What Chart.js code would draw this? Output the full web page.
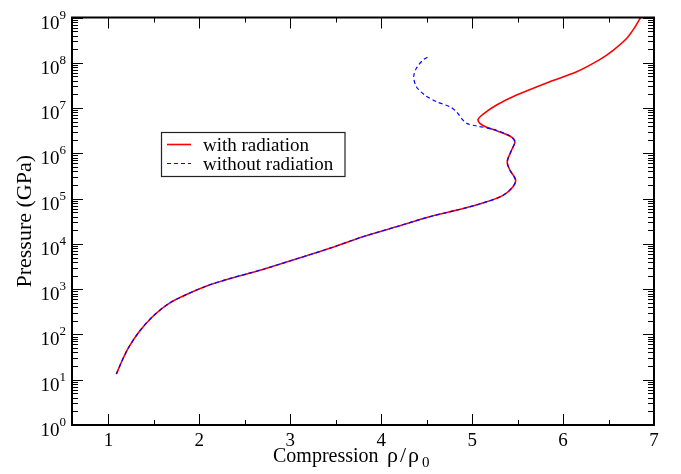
<!DOCTYPE html>
<html>
<head>
<meta charset="utf-8">
<script src="https://cdn.jsdelivr.net/npm/chart.js@4"></script>
<style>
  html, body { margin: 0; padding: 0; background: #fff; }
  canvas { display: block; }
</style>
</head>
<body>
<canvas id="chart" width="681" height="474"></canvas>
<script>
// part of the curve shared by both runs (they overlap up to ~2.4e6 GPa)
const compressionShared = [1.088, 1.154, 1.228, 1.338, 1.485, 1.668, 1.889, 2.11, 2.33, 2.532, 2.697, 3.065,
  3.434, 3.799, 4.167, 4.534, 4.901, 5.10, 5.33, 5.44, 5.478, 5.415, 5.386, 5.434, 5.47, 5.415]
const pressureShared = [13.4, 27.3, 53.6, 115, 246, 487, 811, 1236, 1706, 2200, 2723, 4636,
  7986, 14410, 23940, 39810, 60300, 78000, 115000, 174000, 257600, 428000, 653000, 1.18e6, 1.81e6, 2.41e6]

// with radiation: turns back and climbs to the right
const compressionRad = [5.269, 5.159, 5.085, 5.066, 5.121, 5.269, 5.489, 5.853, 6.15, 6.407, 6.554, 6.701, 6.793, 6.848, 6.86]
const pressureRad = [3.16e6, 3.76e6, 4.6e6, 5.64e6, 7.38e6, 1.17e7, 1.94e7, 3.82e7, 6.35e7, 1.19e8, 1.91e8, 3.47e8, 6.25e8, 9.6e8, 1.0e9]

// without radiation: keeps going left
const compressionNoRad = [5.231, 5.048, 4.938, 4.883, 4.828, 4.754, 4.608, 4.479, 4.387, 4.358, 4.387, 4.46, 4.534]
const pressureNoRad = [3.4e6, 4.02e6, 4.6e6, 5.93e6, 8.3e6, 1.07e7, 1.38e7, 1.94e7, 2.96e7, 4.92e7, 7.55e7, 1.15e8, 1.41e8]

const xTicks = [1, 2, 3, 4, 5, 6, 7]
const yDecades = [0, 1, 2, 3, 4, 5, 6, 7, 8, 9]
const seriesNames = ['with radiation', 'without radiation']

const toPoints = (xs, ys) => xs.map((x, i) => ({ x, y: ys[i] }))

const SERIF = '"Liberation Serif", "DejaVu Serif", serif'

const axesPlugin = {
  id: 'axesFrame',
  afterDraw(chart) {
    const { ctx, chartArea: a } = chart
    const x = chart.scales.x
    const y = chart.scales.y
    ctx.save()
    ctx.strokeStyle = '#000'
    ctx.fillStyle = '#000'

    // inward ticks on all four sides
    ctx.lineWidth = 1
    ctx.beginPath()
    xTicks.forEach((v, i) => {
      const px = Math.round(x.getPixelForValue(v)) + 0.5
      ctx.moveTo(px, a.bottom); ctx.lineTo(px, a.bottom - 11)
      ctx.moveTo(px, a.top); ctx.lineTo(px, a.top + 11)
      if (i < xTicks.length - 1) {
        const pm = Math.round(x.getPixelForValue(v + 0.5)) + 0.5
        ctx.moveTo(pm, a.bottom); ctx.lineTo(pm, a.bottom - 5)
        ctx.moveTo(pm, a.top); ctx.lineTo(pm, a.top + 5)
      }
    })
    yDecades.forEach((d) => {
      const py = Math.round(y.getPixelForValue(Math.pow(10, d))) + 0.5
      ctx.moveTo(a.left, py); ctx.lineTo(a.left + 11, py)
      ctx.moveTo(a.right, py); ctx.lineTo(a.right - 11, py)
      if (d < 9) {
        for (let k = 2; k <= 9; k++) {
          const pm = Math.round(y.getPixelForValue(k * Math.pow(10, d))) + 0.5
          ctx.moveTo(a.left, pm); ctx.lineTo(a.left + 6, pm)
          ctx.moveTo(a.right, pm); ctx.lineTo(a.right - 6, pm)
        }
      }
    })
    ctx.stroke()

    ctx.lineWidth = 2
    ctx.strokeRect(a.left, a.top, a.right - a.left, a.bottom - a.top)

    // x tick labels
    ctx.font = '19px ' + SERIF
    ctx.textAlign = 'center'
    ctx.textBaseline = 'alphabetic'
    xTicks.forEach((v) => {
      ctx.fillText(String(v), x.getPixelForValue(v), a.bottom + 21)
    })

    // y tick labels as 10^n
    yDecades.forEach((d) => {
      const py = y.getPixelForValue(Math.pow(10, d))
      const right = a.left - 6
      ctx.textAlign = 'right'
      ctx.font = '13px ' + SERIF
      ctx.fillText(String(d), right, py + 1)
      const ew = ctx.measureText(String(d)).width
      ctx.font = '19px ' + SERIF
      ctx.fillText('10', right - ew, py + 11)
    })

    // x title: Compression rho/rho0
    ctx.textAlign = 'left'
    const tb = a.bottom + 37
    ctx.font = '20px ' + SERIF
    ctx.fillText('Compression', 273, tb)
    ctx.font = '22px ' + SERIF
    ctx.fillText('ρ', 387, tb)
    ctx.fillText('/', 400, tb)
    ctx.fillText('ρ', 408, tb)
    ctx.font = '15px ' + SERIF
    ctx.fillText('0', 422, tb + 5)

    // y title
    ctx.save()
    ctx.translate(31, (a.top + a.bottom) / 2)
    ctx.rotate(-Math.PI / 2)
    ctx.textAlign = 'center'
    ctx.font = '22px ' + SERIF
    ctx.fillText('Pressure (GPa)', 0, 0)
    ctx.restore()

    // legend box
    const lx = 161.5, ly = 132.5, lw = 183.5, lh = 44
    ctx.fillStyle = '#fff'
    ctx.fillRect(lx, ly, lw, lh)
    ctx.lineWidth = 1.2
    ctx.strokeStyle = '#222'
    ctx.strokeRect(lx, ly, lw, lh)
    const rows = [
      { color: '#ff0000', dash: [], width: 1.6, y: 144.5 },
      { color: '#0000ff', dash: [4, 3], width: 1.2, y: 163.5 }
    ]
    rows.forEach((r, i) => {
      ctx.beginPath()
      ctx.strokeStyle = r.color
      ctx.lineWidth = r.width
      ctx.setLineDash(r.dash)
      ctx.moveTo(167, r.y); ctx.lineTo(191, r.y)
      ctx.stroke()
      ctx.setLineDash([])
      ctx.fillStyle = '#000'
      ctx.font = '19px ' + SERIF
      ctx.textAlign = 'left'
      ctx.fillText(seriesNames[i], 203, r.y + 6)
    })
    ctx.restore()
  }
}

new Chart(document.getElementById('chart'), {
  type: 'scatter',
  data: {
    datasets: [
      {
        label: seriesNames[0],
        data: toPoints(compressionShared.concat(compressionRad), pressureShared.concat(pressureRad)),
        showLine: true,
        borderColor: '#ff0000',
        borderWidth: 1.6,
        pointRadius: 0,
        tension: 0.3,
        order: 2
      },
      {
        label: seriesNames[1],
        data: toPoints(compressionShared.concat(compressionNoRad), pressureShared.concat(pressureNoRad)),
        showLine: true,
        borderColor: '#0000ff',
        borderWidth: 1.2,
        borderDash: [4, 3],
        pointRadius: 0,
        tension: 0.3,
        order: 1
      }
    ]
  },
  options: {
    responsive: false,
    animation: false,
    layout: { padding: { left: 72, top: 17.5, right: 27, bottom: 49 } },
    plugins: { legend: { display: false }, tooltip: { enabled: false } },
    scales: {
      x: { type: 'linear', min: 0.6, max: 7, display: false },
      y: { type: 'logarithmic', min: 1, max: 1e9, display: false }
    }
  },
  plugins: [axesPlugin]
})
</script>
</body>
</html>
